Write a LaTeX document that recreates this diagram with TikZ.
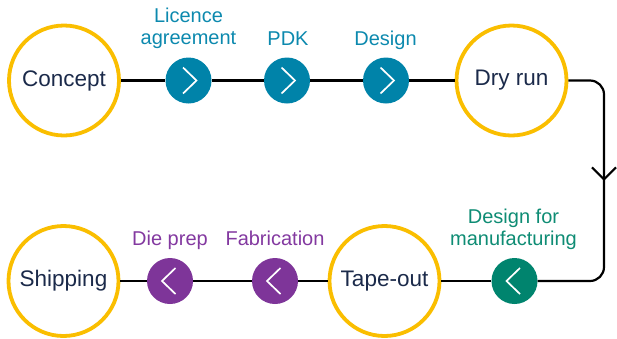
\documentclass[tikz,border=0pt]{standalone}
\usepackage{fontspec}
\setmainfont{Liberation Sans}
\usetikzlibrary{arrows.meta,decorations.markings}

\definecolor{ringyellow}{HTML}{FABE00}
\definecolor{stagetext}{HTML}{1B2A4A}
\definecolor{tealdot}{HTML}{0083A9}
\definecolor{teallabel}{HTML}{0C89AE}
\definecolor{purpledot}{HTML}{7E3599}
\definecolor{purplelabel}{HTML}{8339A0}
\definecolor{greendot}{HTML}{00846E}
\definecolor{greenlabel}{HTML}{0E8C74}

\tikzset{
  stage/.style={circle, draw=ringyellow, line width=3.8pt, fill=white,
    minimum size=110pt, inner sep=0pt, text=stagetext,
    font=\fontsize{22.5}{26}\selectfont},
  gate/.style={circle, fill=#1, minimum size=46pt, inner sep=0pt},
  gatelabel/.style={anchor=south, inner sep=0pt, text depth=0pt, align=center,
    text=#1, font=\fontsize{20}{22.5}\selectfont},
  flow/.style={line width=2.2pt},
  fwd/.pic={\draw[white, line width=1.7pt, line join=miter] (-5.5,-13) -- (8,0) -- (-5.5,13);},
  back/.pic={\draw[white, line width=1.7pt, line join=miter] (5.5,-13) -- (-8,0) -- (5.5,13);}
}

\begin{document}
\begin{tikzpicture}[x=1pt, y=-1pt]
    \useasboundingbox (0,0) rectangle (617,338);
    % top row
    \node[stage] (concept) at (64,80.5){Concept};
    \node[gate=tealdot] (licence) at (188.5,80.5){};
    \node[gate=tealdot] (pdk) at (287,80.5){};
    \node[gate=tealdot] (design) at (386,80.5){};
    \node[stage] (dryrun) at (511.5,80.5){Dry run};
    \node[gatelabel=teallabel] (licencelbl) at (188.5,45){Licence\\agreement};
    \node[gatelabel=teallabel] (pdklbl) at (288,46){PDK};
    \node[gatelabel=teallabel] (designlbl) at (385.5,46){Design};
    % bottom row
    \node[stage] (shipping) at (63.5,281){Shipping};
    \node[gate=purpledot] (dieprep) at (170,281){};
    \node[gate=purpledot] (fab) at (275,281){};
    \node[stage] (tapeout) at (384.5,281){Tape-out};
    \node[gate=greendot] (dfm) at (514.5,281){};
    \node[gatelabel=purplelabel] (dieprepl) at (170,246){Die prep};
    \node[gatelabel=purplelabel] (fablbl) at (275,246){Fabrication};
    \node[gatelabel=greenlabel] (dfmlbl) at (513.5,246){Design for\\manufacturing};
    \coordinate (turn1) at (604,80.5);
    \coordinate (turn2) at (604,281);
    % connectors
    \draw[flow](concept) -- (licence);
    \draw[flow](licence) -- (pdk);
    \draw[flow](pdk) -- (design);
    \draw[flow](design) -- (dryrun);
    \draw[flow, rounded corners=14pt, postaction={decorate},
      decoration={markings, mark=at position 130pt with {\arrow{Straight Barb[length=12pt,width=24pt]}}}]
      (dryrun.east) -- (turn1) -- (turn2) -- (dfm.east);
    \draw[flow](dfm) -- (tapeout);
    \draw[flow](tapeout) -- (fab);
    \draw[flow](fab) -- (dieprep);
    \draw[flow](dieprep) -- (shipping);
    % chevrons
    \pic at (licence) {fwd};
    \pic at (pdk) {fwd};
    \pic at (design) {fwd};
    \pic at (dfm) {back};
    \pic at (fab) {back};
    \pic at (dieprep) {back};
  \end{tikzpicture}
\end{document}
